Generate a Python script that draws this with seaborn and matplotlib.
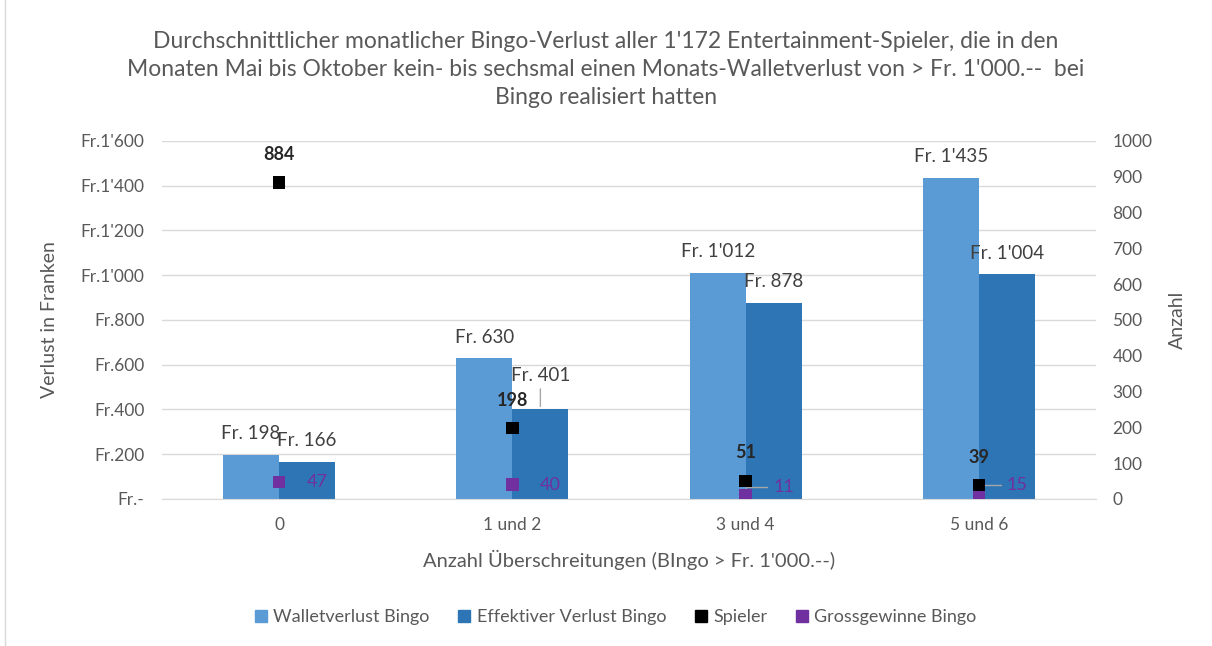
import numpy as np
import pandas as pd
import seaborn as sns
from matplotlib import pyplot as plt
from matplotlib.patches import Patch
from matplotlib.lines import Line2D

# data
categories = ["0", "1 und 2", "3 und 4", "5 und 6"]
walletverlust = [198, 630, 1012, 1435]
effektiver_verlust = [166, 401, 878, 1004]
spieler = [884, 198, 51, 39]
grossgewinne = [47, 40, 11, 15]

left_ticks = [0, 200, 400, 600, 800, 1000, 1200, 1400, 1600]
left_ticklabels = ["Fr.-", "Fr.200", "Fr.400", "Fr.600", "Fr.800",
                   "Fr.1'000", "Fr.1'200", "Fr.1'400", "Fr.1'600"]
right_ticks = [0, 100, 200, 300, 400, 500, 600, 700, 800, 900, 1000]

title = ("Durchschnittlicher monatlicher Bingo-Verlust aller 1'172 Entertainment-Spieler, die in den\n"
         "Monaten Mai bis Oktober kein- bis sechsmal einen Monats-Walletverlust von > Fr. 1'000.--  bei\n"
         "Bingo realisiert hatten")

LIGHT = "#5B9BD5"
DARK = "#2E75B6"
PURPLE = "#7030A0"
GREY = "#595959"

sns.set_style("white")
plt.rcParams['font.family'] = ['Lato', 'DejaVu Sans']

df = pd.DataFrame({
    "cat": categories * 2,
    "val": walletverlust + effektiver_verlust,
    "serie": ["Walletverlust Bingo"] * 4 + ["Effektiver Verlust Bingo"] * 4,
})

fig = plt.figure(figsize=(12.12, 6.46), dpi=100)
ax = fig.add_axes([0.134, 0.2276, 0.770, 0.5542])

bar_w = 0.48
sns.barplot(data=df, x="cat", y="val", hue="serie", order=categories,
            palette=[LIGHT, DARK], width=bar_w, gap=0, ax=ax, legend=False,
            saturation=1, linewidth=0)

ax.set_ylim(0, 1600)
ax.set_xlim(-0.5, 3.5)
ax.set_yticks(left_ticks)
ax.set_yticklabels(left_ticklabels)
ax.yaxis.grid(True, color="#D9D9D9", linewidth=1)
ax.set_axisbelow(True)
for s in ["top", "right", "left"]:
    ax.spines[s].set_visible(False)
ax.spines["bottom"].set_color("#D9D9D9")
ax.tick_params(axis="both", colors=GREY, labelsize=12.5, length=0, pad=13)
ax.set_xlabel("Anzahl Überschreitungen (BIngo > Fr. 1'000.--)", color=GREY, fontsize=14.5, labelpad=12)
ax.set_ylabel("Verlust in Franken", color=GREY, fontsize=14, labelpad=16)

def fr(v):
    return f"Fr. {v:,.0f}".replace(",", "'")

# bar labels (the 'Fr. 401' one sits higher with a leader line, like the original)
for i, container in enumerate(ax.containers):
    for j, (bar, v) in enumerate(zip(container, container.datavalues)):
        xc = bar.get_x() + bar.get_width() / 2
        if i == 1 and j == 1:
            ax.annotate(fr(v), (xc, v), xytext=(0, 18), textcoords="offset points",
                        ha="center", va="bottom", fontsize=13.5, color="#404040",
                        arrowprops=dict(arrowstyle="-", color="#A6A6A6", lw=1,
                                        shrinkA=1, shrinkB=2))
        else:
            ax.annotate(fr(v), (xc, v), xytext=(0, 9), textcoords="offset points",
                        ha="center", va="bottom", fontsize=13.5, color="#404040")

# secondary axis
ax2 = ax.twinx()
pos = np.arange(len(categories))
sns.scatterplot(x=pos, y=spieler, marker="s", color="black", s=80, edgecolor="none", ax=ax2, legend=False, zorder=5)
sns.scatterplot(x=pos, y=grossgewinne, marker="s", color=PURPLE, s=80, edgecolor="none", ax=ax2, legend=False, zorder=4)
ax2.set_ylim(0, 1000)
ax2.set_yticks(right_ticks)
for s in ["top", "right", "left", "bottom"]:
    ax2.spines[s].set_visible(False)
ax2.tick_params(axis="y", colors=GREY, labelsize=12.5, length=0, pad=12)
ax2.set_ylabel("Anzahl", color=GREY, fontsize=14, rotation=90, labelpad=12)

for x, v in zip(pos, spieler):
    ax2.annotate(str(v), (x, v), xytext=(0, 20), textcoords="offset points",
                 ha="center", va="center", fontsize=13, fontweight="bold", color="#262626")
for x, v in zip(pos, grossgewinne):
    if v < 30:
        ax2.annotate(str(v), (x, v), xytext=(20, 6), textcoords="offset points",
                     ha="left", va="center", fontsize=13, color=PURPLE,
                     arrowprops=dict(arrowstyle="-", color="#A6A6A6", lw=1,
                                     shrinkA=2, shrinkB=2, connectionstyle="angle,angleA=0,angleB=90"))
    else:
        ax2.annotate(str(v), (x, v), xytext=(20, 0), textcoords="offset points",
                     ha="left", va="center", fontsize=13, color=PURPLE)

fig.suptitle(title, y=0.952, fontsize=16.5, color=GREY, linespacing=1.42)

handles = [Patch(color=LIGHT), Patch(color=DARK), Patch(color="black"), Patch(color=PURPLE)]
labels = ["Walletverlust Bingo", "Effektiver Verlust Bingo", "Spieler", "Grossgewinne Bingo"]
fig.legend(handles, labels, loc="center", bbox_to_anchor=(0.508, 0.045), ncol=4, frameon=False,
           fontsize=13, labelcolor=GREY, handlelength=0.65, handleheight=0.65,
           handletextpad=0.35, columnspacing=1.6)

fig.add_artist(Line2D([0.004, 0.004], [0.0, 1.0], color="#D9D9D9", linewidth=1, transform=fig.transFigure))

fig.savefig("out.png", dpi=100)
